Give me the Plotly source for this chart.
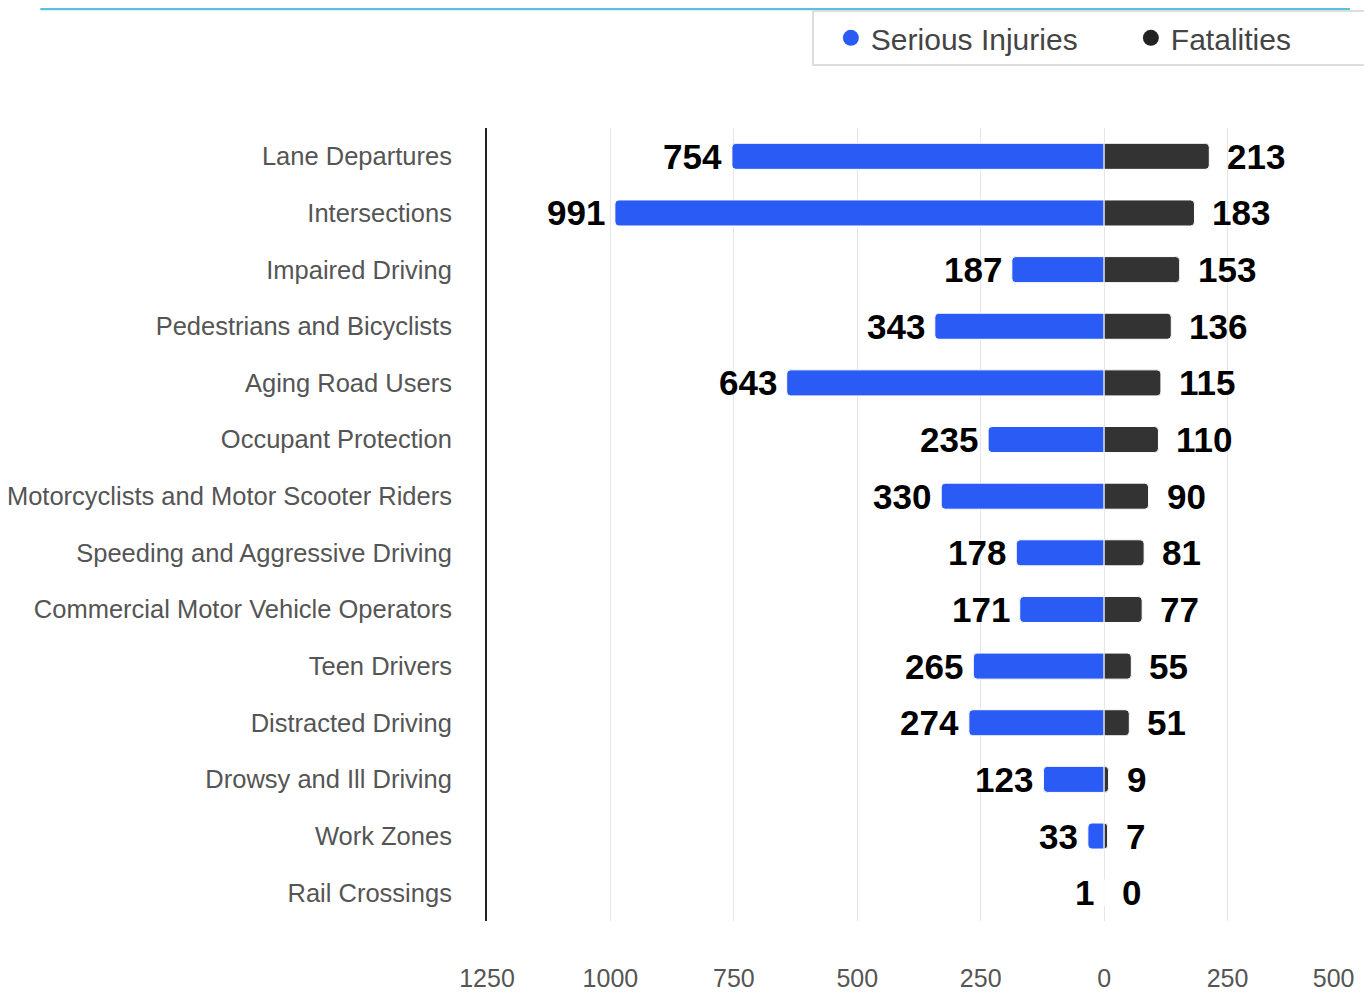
import plotly.graph_objects as go

categories = [
    "Lane Departures", "Intersections", "Impaired Driving", "Pedestrians and Bicyclists",
    "Aging Road Users", "Occupant Protection", "Motorcyclists and Motor Scooter Riders",
    "Speeding and Aggressive Driving", "Commercial Motor Vehicle Operators", "Teen Drivers",
    "Distracted Driving", "Drowsy and Ill Driving", "Work Zones", "Rail Crossings",
]
serious_injuries = [754, 991, 187, 343, 643, 235, 330, 178, 171, 265, 274, 123, 33, 1]
fatalities = [213, 183, 153, 136, 115, 110, 90, 81, 77, 55, 51, 9, 7, 0]

tick_vals = [-1250, -1000, -750, -500, -250, 0, 250, 500]
tick_text = ["1250", "1000", "750", "500", "250", "0", "250", "500\u00a0\u00a0\u00a0\u00a0\u00a0"]

BLUE = "#2A5CF5"
DARK = "#333333"
FONT = "Liberation Sans, Arial, sans-serif"

fig = go.Figure()
fig.add_trace(go.Bar(
    y=categories, x=[-v for v in serious_injuries], orientation="h",
    marker=dict(color=BLUE, cornerradius=4, line=dict(color="white", width=1)),
    showlegend=False, name="Serious Injuries",
))
fig.add_trace(go.Bar(
    y=categories, x=fatalities, orientation="h",
    marker=dict(color=DARK, cornerradius=4, line=dict(color="white", width=1)),
    showlegend=False, name="Fatalities",
))
# legend entries with circle markers
fig.add_trace(go.Scatter(x=[None], y=[None], mode="markers", name="Serious Injuries",
                         marker=dict(color=BLUE, size=24, symbol="circle")))
fig.add_trace(go.Scatter(x=[None], y=[None], mode="markers", name="Fatalities",
                         marker=dict(color="#222222", size=24, symbol="circle")))

annotations = []
for c, v in zip(categories, serious_injuries):
    annotations.append(dict(x=-v, y=c, xref="x", yref="y", text=str(v), showarrow=False,
                            xanchor="right", xshift=-8,
                            font=dict(family=FONT, size=35, color="black", weight="bold")))
for c, v in zip(categories, fatalities):
    annotations.append(dict(x=v, y=c, xref="x", yref="y", text=str(v), showarrow=False,
                            xanchor="left", xshift=16,
                            font=dict(family=FONT, size=35, color="black", weight="bold")))

fig.update_layout(
    width=1364, height=985,
    margin=dict(l=479, r=21, t=120, b=72, autoexpand=False),
    paper_bgcolor="white", plot_bgcolor="white",
    barmode="relative", bargap=0.54,
    font=dict(family=FONT, color="#555555"),
    annotations=annotations,
    legend=dict(
        orientation="h", x=0.376, y=1.149, xanchor="left", yanchor="top",
        bordercolor="#dddddd", borderwidth=2, bgcolor="white",
        font=dict(family=FONT, size=30, color="#444444"),
        entrywidth=238, entrywidthmode="pixels", indentation=17,
    ),
    shapes=[dict(type="line", xref="paper", yref="paper", x0=-0.517, x1=0.9988,
                 y0=1.151, y1=1.151, line=dict(color="#5BC0DE", width=4))],
)
fig.update_xaxes(
    range=[-1250, 500], tickvals=tick_vals, ticktext=tick_text,
    showgrid=True, gridcolor="#e6e6e6", gridwidth=1, zeroline=False,
    ticks="outside", ticklen=35, tickcolor="rgba(0,0,0,0)", automargin=False,
    ticklabeloverflow="allow",
    tickfont=dict(family=FONT, size=25, color="#555555"),
)
fig.update_yaxes(
    categoryorder="array", categoryarray=categories, autorange="reversed",
    showline=True, linecolor="#222222", linewidth=2, showgrid=False,
    ticks="outside", ticklen=28, tickcolor="rgba(0,0,0,0)", automargin=False,
    tickfont=dict(family=FONT, size=25.5, color="#555555"),
)

fig.write_html("out.html")
